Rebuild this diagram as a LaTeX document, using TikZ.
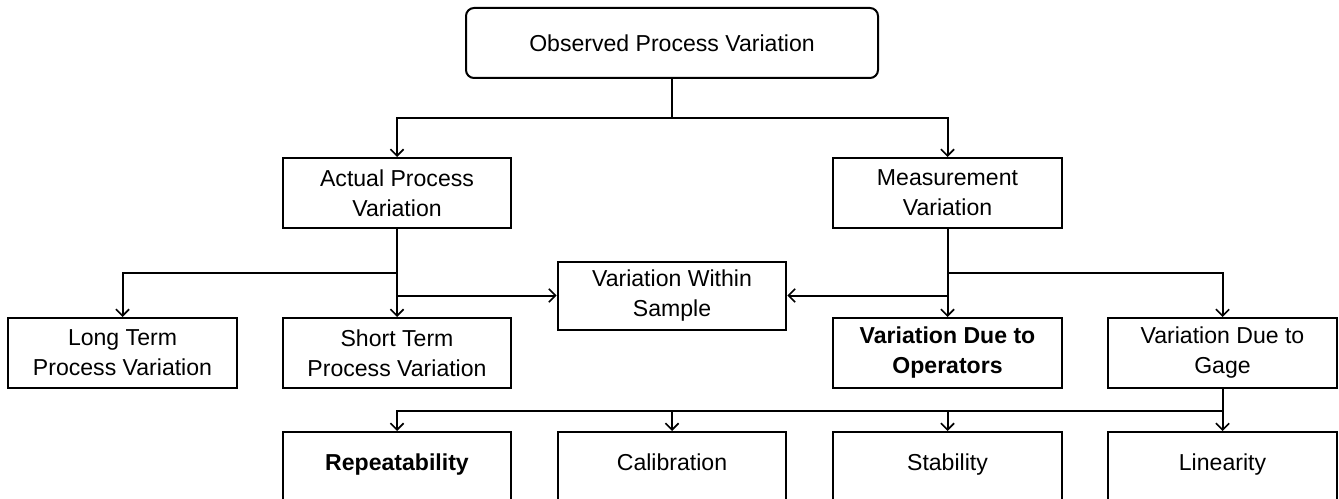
\documentclass[tikz,border=0pt]{standalone}
\usepackage{fontspec}
\setmainfont{Liberation Sans}
\usetikzlibrary{arrows.meta}
\begin{document}
\begin{tikzpicture}[x=0.75pt,y=-0.75pt,
  every node/.style={font=\fontsize{17.3}{22.5}\selectfont},
  box/.style={draw, line width=1.5pt, minimum width=171.5pt, minimum height=52.5pt, align=center, inner sep=2pt},
  topbox/.style={box, rounded corners=6pt, minimum width=309pt},
  botbox/.style={box, text height=12.5pt, text depth=8pt},
  conn/.style={line width=1.5pt},
  arr/.style={conn, -{Straight Barb[length=5pt,width=10pt,line width=1.2pt]}}]
\useasboundingbox (0,0) rectangle (1339,499);
\clip (0,0) rectangle (1339,499);
\fill[white] (0,0) rectangle (1339,499);
% nodes
\node[topbox] (top) at (672,43) {Observed Process Variation};
\node[box] (apv) at (397,193) {Actual Process\\Variation};
\node[box] (mv) at (947.5,193) {Measurement\\Variation};
\node[box] (lt) at (122.5,353) {Long Term\\Process Variation};
\node[box] (st) at (397,353) {Short Term\\Process Variation};
\node[box, minimum height=51pt] (ws) at (672,295.5) {Variation Within\\Sample};
\node[box] (op) at (947.5,353) {\textbf{Variation Due to}\\\textbf{Operators}};
\node[box] (gage) at (1222.5,353) {Variation Due to\\Gage};
\node[botbox] (rep) at (397,467) {\textbf{Repeatability}};
\node[botbox] (cal) at (672,467) {Calibration};
\node[botbox] (sta) at (947.5,467) {Stability};
\node[botbox] (lin) at (1222.5,467) {Linearity};
% connectors
\coordinate (j1) at (672,118);
\draw[conn] (top.south) -- (j1);
\draw[arr] (j1) -| (apv.north);
\draw[arr] (j1) -| (mv.north);
\draw[arr] (apv.south) -- (st.north);
\coordinate (j2) at (397,273);
\draw[arr] (j2) -| (lt.north);
\draw[arr] (apv.south |- ws.west) -- (ws.west);
\draw[arr] (mv.south) -- (op.north);
\coordinate (j3) at (947.5,273);
\draw[arr] (j3) -| (gage.north);
\draw[arr] (mv.south |- ws.east) -- (ws.east);
\coordinate (j4) at (1222.5,411);
\draw[arr] (gage.south) -- (lin.north);
\draw[arr] (j4) -| (rep.north);
\draw[arr] (cal.north |- j4) -- (cal.north);
\draw[arr] (sta.north |- j4) -- (sta.north);
\end{tikzpicture}
\end{document}
